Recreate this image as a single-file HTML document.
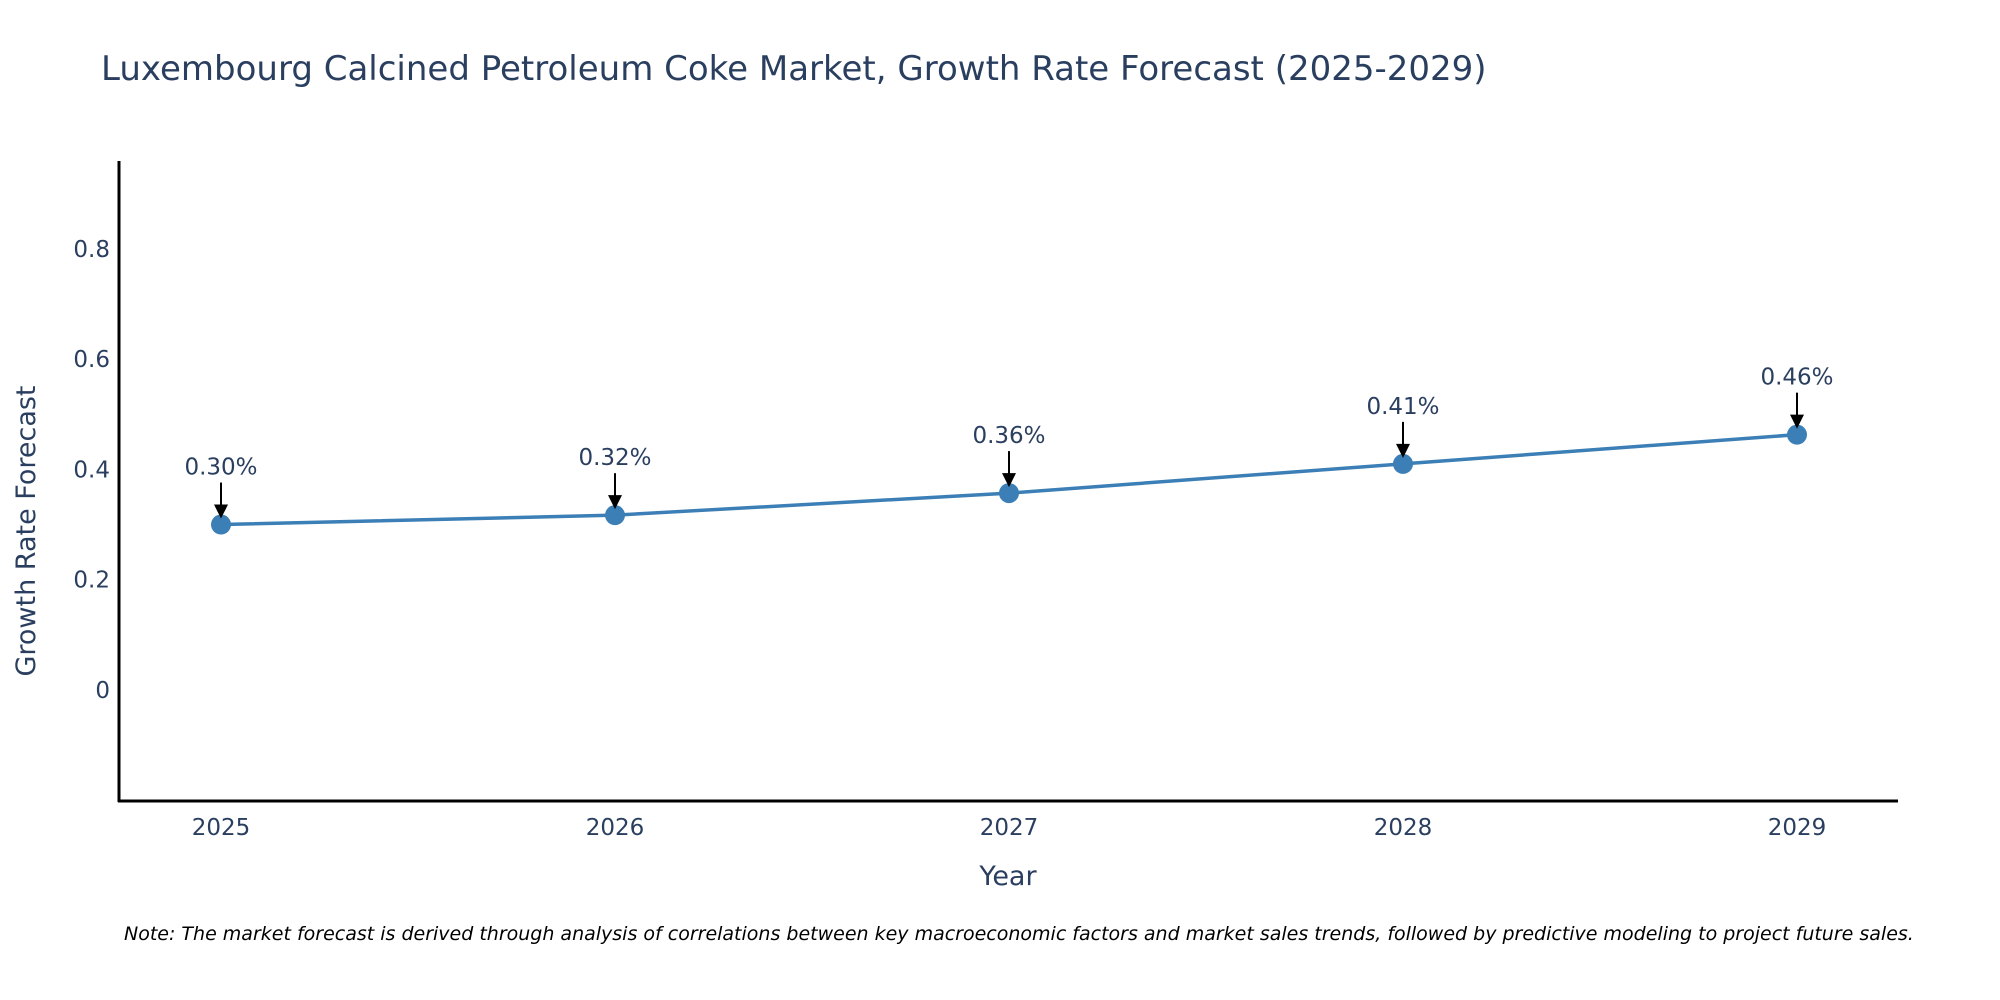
<!DOCTYPE html>
<html><head><meta charset="utf-8"><style>
body{margin:0;background:#fff;}
svg{display:block;font-family:"DejaVu Sans","Liberation Sans",sans-serif;}
</style></head><body>
<svg id="chart" width="2000" height="1000">
<text x="101" y="80" font-size="34" fill="#2a3f5f">Luxembourg Calcined Petroleum Coke Market, Growth Rate Forecast (2025-2029)</text>
<g id="yticks"></g><g id="xticks"></g>
<line x1="119" y1="161" x2="119" y2="802" stroke="#000" stroke-width="3"/>
<line x1="118" y1="801" x2="1898" y2="801" stroke="#000" stroke-width="3"/>
<text x="1008" y="885" font-size="27" fill="#2a3f5f" text-anchor="middle">Year</text>
<text x="0" y="0" font-size="27" fill="#2a3f5f" text-anchor="middle" transform="translate(35,531) rotate(-90)">Growth Rate Forecast</text>
<g id="series"></g>
<text x="124" y="940" font-size="19" font-style="italic" fill="#000">Note: The market forecast is derived through analysis of correlations between key macroeconomic factors and market sales trends, followed by predictive modeling to project future sales.</text>
</svg>
<script>
const years=[2025,2026,2027,2028,2029];
const values=[0.30,0.317,0.357,0.41,0.463];
const labels=["0.30%","0.32%","0.36%","0.41%","0.46%"];
const yTicks=[0,0.2,0.4,0.6,0.8];
const NS="http://www.w3.org/2000/svg";
const xS=v=>221+(v-2025)*394;
const yS=v=>690-v*551.5;
function mk(tag,attrs,parent){const e=document.createElementNS(NS,tag);for(const k in attrs)e.setAttribute(k,attrs[k]);parent.appendChild(e);return e;}
const yt=document.getElementById('yticks');
yTicks.forEach(t=>{const e=mk('text',{x:110,y:yS(t)+8,'font-size':23,fill:'#2a3f5f','text-anchor':'end'},yt);


e.textContent=String(t);});
const xt=document.getElementById('xticks');
years.forEach(y=>{const e=mk('text',{x:xS(y),y:835,'font-size':23,fill:'#2a3f5f','text-anchor':'middle'},xt);


e.textContent=String(y);});
const s=document.getElementById('series');
let d='';years.forEach((y,i)=>{d+=(i?'L':'M')+xS(y)+','+yS(values[i]);});
const p=mk('path',{d:d,fill:'none',stroke:'#3b7fb6','stroke-width':3.5},s);


years.forEach((y,i)=>{const cx=xS(y),cy=yS(values[i]);
const c=mk('circle',{cx:cx,cy:cy,r:10,fill:'#3b7fb6'},s);


const l=mk('line',{x1:cx,y1:cy-42,x2:cx,y2:cy-18,stroke:'#000','stroke-width':2},s);


const h=mk('polygon',{points:`${cx-7},${cy-20} ${cx+7},${cy-20} ${cx},${cy-6}`,fill:'#000'},s);


const t=mk('text',{x:cx,y:cy-50,'font-size':23,fill:'#2a3f5f','text-anchor':'middle'},s);


t.textContent=labels[i];});
</script>
</body></html>
